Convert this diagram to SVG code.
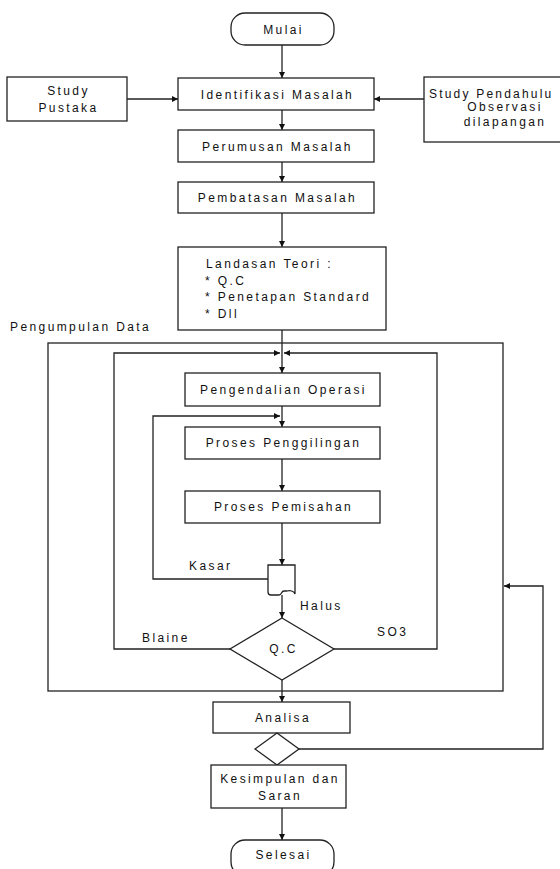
<svg xmlns="http://www.w3.org/2000/svg" width="560" height="869" viewBox="0 0 560 869">
<defs>
<marker id="ah" viewBox="0 0 10 10" refX="10" refY="5" markerWidth="6" markerHeight="6" markerUnits="userSpaceOnUse" orient="auto">
<path d="M0,0 L10,5 L0,10 Z" fill="#111"/>
</marker>
<style>
.box{fill:#fff;stroke:#222;stroke-width:1.3}
.ln{fill:none;stroke:#222;stroke-width:1.3}
.arr{fill:none;stroke:#222;stroke-width:1.3;marker-end:url(#ah)}
text{font-family:"Liberation Sans",Arial,sans-serif;font-size:12px;fill:#111;letter-spacing:2.4px}
.c{text-anchor:middle}
</style>
</defs>
<rect width="560" height="869" fill="#fff"/>

<g id="connectors">
<line class="arr" x1="282" y1="45" x2="282" y2="78"/>
<line class="arr" x1="127" y1="99" x2="178" y2="99"/>
<line class="arr" x1="424" y1="99" x2="374" y2="99"/>
<line class="arr" x1="282" y1="110" x2="282" y2="130"/>
<line class="arr" x1="282" y1="162" x2="282" y2="182"/>
<line class="arr" x1="282" y1="213" x2="282" y2="247"/>
<line class="arr" x1="282" y1="330" x2="282" y2="373"/>
<polyline class="arr" points="230,649 114,649 114,353 280,353"/>
<polyline class="arr" points="334,649 437,649 437,353 284,353"/>
<line class="arr" x1="282" y1="406" x2="282" y2="427"/>
<polyline class="arr" points="268,579 153,579 153,416 280,416"/>
<line class="arr" x1="282" y1="459" x2="282" y2="491"/>
<line class="arr" x1="282" y1="523" x2="282" y2="565"/>
<line class="arr" x1="282" y1="595" x2="282" y2="618"/>
<line class="arr" x1="282" y1="680" x2="282" y2="702"/>
<polyline class="arr" points="299,749 543,749 543,586 504,586"/>
<line class="arr" x1="282" y1="808" x2="282" y2="840"/>
</g>

<g id="pengumpulan">
<rect class="ln" x="48" y="343" width="455" height="348"/>
<text x="10" y="331">Pengumpulan Data</text>
</g>

<g id="mulai">
<rect class="box" x="231" y="13" width="103" height="32" rx="14"/>
<text class="c" x="283.5" y="34">Mulai</text>
</g>

<g id="study-pustaka">
<rect class="box" x="7" y="77" width="120" height="44"/>
<text class="c" x="68.5" y="95">Study</text>
<text class="c" x="68.5" y="112">Pustaka</text>
</g>

<g id="identifikasi">
<rect class="box" x="178" y="78" width="196" height="32"/>
<text class="c" x="277.5" y="99">Identifikasi Masalah</text>
</g>

<g id="study-pendahulu">
<rect class="box" x="424" y="77" width="170" height="65"/>
<text x="429" y="98" style="letter-spacing:2.2px">Study Pendahulu</text>
<text class="c" x="505" y="111">Observasi</text>
<text class="c" x="505" y="126">dilapangan</text>
</g>

<g id="perumusan">
<rect class="box" x="178" y="130" width="196" height="32"/>
<text class="c" x="277.5" y="151">Perumusan Masalah</text>
</g>

<g id="pembatasan">
<rect class="box" x="178" y="182" width="196" height="31"/>
<text class="c" x="277.5" y="202">Pembatasan Masalah</text>
</g>

<g id="landasan">
<rect class="box" x="178" y="247" width="208" height="83"/>
<text x="206" y="268">Landasan Teori :</text>
<text x="205" y="285">* Q.C</text>
<text x="205" y="301">* Penetapan Standard</text>
<text x="205" y="318">* Dll</text>
</g>

<g id="pengendalian">
<rect class="box" x="185" y="373" width="195" height="33"/>
<text class="c" x="283.5" y="394">Pengendalian Operasi</text>
</g>

<g id="penggilingan">
<rect class="box" x="185" y="427" width="195" height="32"/>
<text class="c" x="283.5" y="447">Proses Penggilingan</text>
</g>

<g id="pemisahan">
<rect class="box" x="185" y="491" width="195" height="32"/>
<text class="c" x="283.5" y="511">Proses Pemisahan</text>
</g>

<g id="separator">
<path class="box" d="M268,565 H295 V594 C294,591 290,590 287,591 H284 C281,591 282,595 279,595 H271 C269,595 268,594 268,592 Z"/>
<text x="189" y="570">Kasar</text>
<text x="300" y="610">Halus</text>
</g>

<g id="qc">
<polygon class="box" points="282,618 334,649 282,680 230,649"/>
<text class="c" x="283.5" y="653">Q.C</text>
<text x="142" y="642">Blaine</text>
<text x="377" y="636">SO3</text>
</g>

<g id="analisa">
<rect class="box" x="213" y="702" width="137" height="31"/>
<text class="c" x="283" y="722">Analisa</text>
</g>

<g id="decision">
<polygon class="box" points="277,733 299,749 277,765 255,749"/>
</g>

<g id="kesimpulan">
<rect class="box" x="211" y="765" width="135" height="43"/>
<text class="c" x="280" y="783">Kesimpulan dan</text>
<text class="c" x="280" y="800">Saran</text>
</g>

<g id="selesai">
<rect class="box" x="231" y="840" width="103" height="36" rx="14"/>
<text class="c" x="283.5" y="859">Selesai</text>
</g>
</svg>
